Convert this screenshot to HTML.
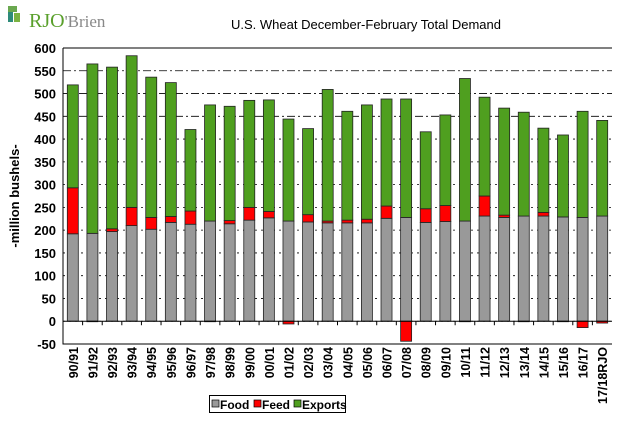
<!DOCTYPE html>
<html><head><meta charset="utf-8"><style>
body{margin:0;background:#fff;font-family:"Liberation Sans",Arial,sans-serif}
svg{display:block}
</style></head><body>
<svg id="c" width="618" height="422" xmlns="http://www.w3.org/2000/svg">
<g>
<rect x="8" y="6" width="9" height="6" fill="#6aa84f"/><rect x="8" y="12" width="5" height="10" fill="#2e8b7a"/><rect x="14" y="13" width="6" height="9" fill="#7bb241"/>
<text x="29" y="27" font-family="Liberation Serif,serif" font-size="20" fill="#5aa02c">RJO<tspan fill="#888" font-size="17">'Brien</tspan></text>
</g>
<text x="366" y="29" text-anchor="middle" font-size="13" fill="#000">U.S. Wheat December-February Total Demand</text>
<g id="grid"></g><g id="bars"></g><g id="axes"></g>
<text transform="translate(19,196) rotate(-90)" text-anchor="middle" font-size="13" font-weight="bold">-million bushels-</text>
<g>
<rect x="209.5" y="395.5" width="136" height="17" fill="#fff" stroke="#000"/>
<rect x="212" y="400" width="7" height="7" fill="#999" stroke="#000" stroke-width="0.7"/>
<text x="220" y="409" font-size="12" font-weight="bold">Food</text>
<rect x="254" y="400" width="7" height="7" fill="#ff0000" stroke="#000" stroke-width="0.7"/>
<text x="262" y="409" font-size="12" font-weight="bold">Feed</text>
<rect x="294" y="400" width="7" height="7" fill="#4f9f1f" stroke="#000" stroke-width="0.7"/>
<text x="302" y="409" font-size="12" font-weight="bold">Exports</text>
</g>
</svg>
<script>
const categories=["90/91","91/92","92/93","93/94","94/95","95/96","96/97","97/98","98/99","99/00","00/01","01/02","02/03","03/04","04/05","05/06","06/07","07/08","08/09","09/10","10/11","11/12","12/13","13/14","14/15","15/16","16/17","17/18RJO"];
const food=[192,193,197,210,202,217,213,220,214,222,227,220,218,216,216,216,226,228,217,219,220,231,228,231,231,229,228,231];
const feed=[101,-1,6,40,26,13,29,-1,7,28,14,-6,16,4,6,8,27,-44,30,35,-1,44,5,-1,8,-1,-14,-4];
const exportsV=[226,372,355,333,308,294,179,255,251,235,245,224,189,289,239,251,235,260,169,199,313,217,235,228,185,180,233,210];
const yTicks=[-50,0,50,100,150,200,250,300,350,400,450,500,550,600];
const NS="http://www.w3.org/2000/svg";
const X0=63,X1=612,Y600=48,Ym50=344;
const y=v=>Y600+(600-v)*(Ym50-Y600)/650;
const step=(X1-X0)/categories.length;
const xc=i=>X0+step*(i+0.5);
function mk(tag,attrs,parent){const e=document.createElementNS(NS,tag);for(const k in attrs)e.setAttribute(k,attrs[k]);parent.appendChild(e);return e;}
const grid=document.getElementById('grid'),bars=document.getElementById('bars'),axes=document.getElementById('axes');
yTicks.forEach(t=>{
  if(t>-50&&t<600){const l=mk('line',{x1:X0,x2:X1,y1:y(t),y2:y(t),stroke:'#000','stroke-width':0.8,'stroke-dasharray':t>=450?'8,3,2,3':'2,4'},grid);
  
  }
  const tx=mk('text',{x:56,y:y(t)+5,'text-anchor':'end','font-size':13,'font-weight':'bold'},axes);
  tx.textContent=t;
  
  
});
const ax=mk('path',{d:`M${X0},${Y600}H${X1}M${X0},${Y600}V${Ym50}H${X1}M${X0},${y(0)}H${X1}`,stroke:'#000',fill:'none','stroke-width':1},axes);


const bw=11;
categories.forEach((c,i)=>{
  const x=xc(i)-bw/2;
  let segs=[];
  segs.push([0,food[i],'#999','food']);
  let top=food[i];
  if(feed[i]>=0){segs.push([top,top+feed[i],'#ff0000','feed']);top+=feed[i];}
  else segs.push([feed[i],0,'#ff0000','feed']);
  segs.push([top,top+exportsV[i],'#4f9f1f','exports']);
  segs.forEach(s=>{
    const r=mk('rect',{x:x,y:y(s[1]),width:bw,height:Math.max(0.5,y(s[0])-y(s[1])),fill:s[2],stroke:'#222','stroke-width':0.8},bars);
    
    
  });
  const tk=mk('line',{x1:X0+step*i,x2:X0+step*i,y1:y(0),y2:y(0)+4,stroke:'#000'},axes);
  
  
  const t=mk('text',{transform:`translate(${xc(i)+5},347) rotate(-90)`,'text-anchor':'end','font-size':12.5,'font-weight':'bold'},axes);
  t.textContent=c;
  
  
});
</script>
</body></html>
